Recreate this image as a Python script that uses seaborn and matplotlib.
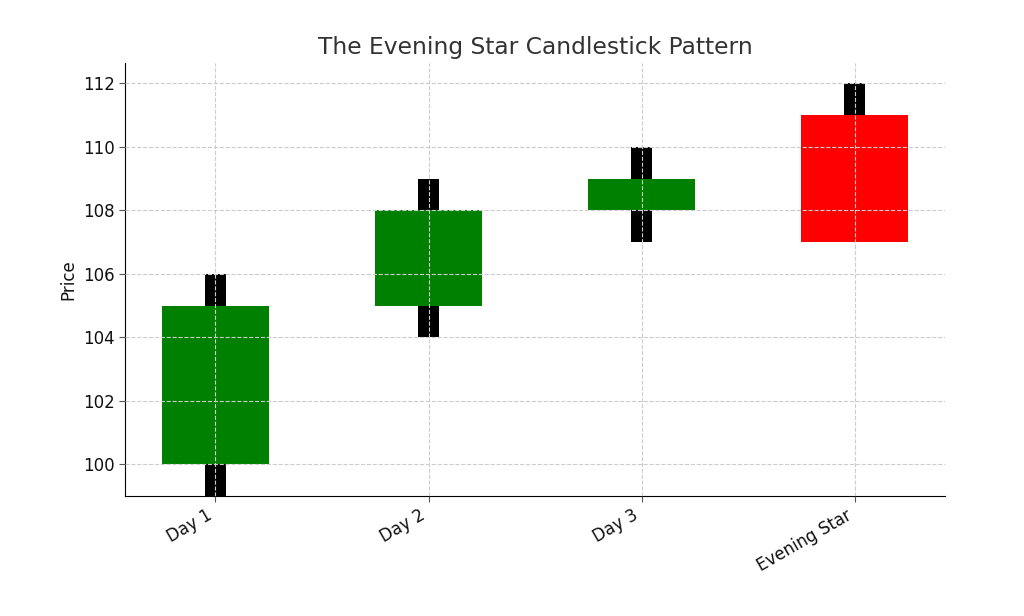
import matplotlib
matplotlib.use('Agg')
import matplotlib.pyplot as plt
import seaborn as sns

days = ['Day 1', 'Day 2', 'Day 3', 'Evening Star']
opens = [100, 105, 108, 111]
closes = [105, 108, 109, 107]
highs = [106, 109, 110, 112]
lows = [99, 104, 107, 107]

sns.set_style('white')
plt.rcParams['font.family'] = ['DejaVu Sans']

fig = plt.figure(figsize=(10.24, 6.16), dpi=100)
ax = fig.add_axes([0.122, 0.195, 0.801, 0.703])

pos = list(range(len(days)))
colors = ['green' if c >= o else 'red' for o, c in zip(opens, closes)]

# wicks first, bodies on top
ax.bar(pos, [h - l for h, l in zip(highs, lows)], bottom=lows, width=0.1,
       color='black', linewidth=0)
ax.bar(pos, [abs(c - o) for o, c in zip(opens, closes)],
       bottom=[min(o, c) for o, c in zip(opens, closes)], width=0.5,
       color=colors, linewidth=0)

ax.set_xticks(pos)
ax.set_xticklabels(days, rotation=30, ha='right', fontsize=12)
ax.tick_params(axis='y', labelsize=12)
ax.tick_params(axis='both', length=4, color='#555555', labelcolor='#111111',
               left=True, bottom=True)
ax.set_ylabel('Price', fontsize=12, color='#111111')
ax.set_title('The Evening Star Candlestick Pattern', fontsize=16.8, color='#333333')
ax.set_axisbelow(False)
ax.grid(True, linestyle='--', color='#cccccc', linewidth=0.8)
sns.despine(ax=ax)
for s in ['left', 'bottom']:
    ax.spines[s].set_color('black')

fig.savefig('out.png', dpi=100)
